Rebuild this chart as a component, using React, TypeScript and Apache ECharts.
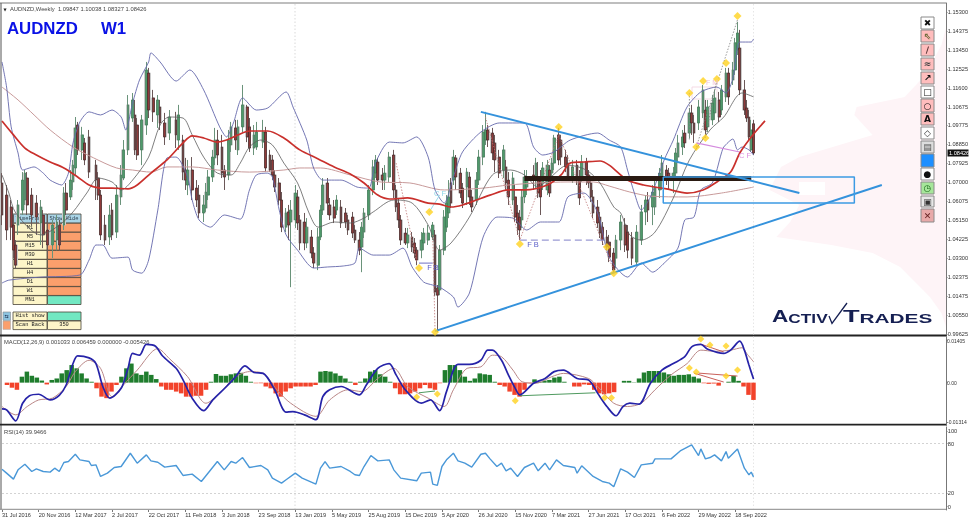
import React, { useEffect, useRef } from "react";
import * as echarts from "echarts";

// week index, open, close, low, high
const candles2016 = [[0,1.0697,1.0541,1.0492,1.0745],[2,1.0638,1.0468,1.0419,1.0687],[4,1.0580,1.0482,1.0419,1.0614],[5,1.0492,1.0370,1.0331,1.0541],[6,1.0395,1.0297,1.0283,1.0419],[7,1.0492,1.0590,1.0444,1.0614],[9,1.0565,1.0711,1.0541,1.0750],[10,1.0614,1.0745,1.0590,1.0760],[11,1.0721,1.0590,1.0541,1.0750],[13,1.0638,1.0541,1.0492,1.0672],[15,1.0599,1.0531,1.0444,1.0638],[17,1.0502,1.0580,1.0395,1.0614],[18,1.0541,1.0444,1.0380,1.0565],[20,1.0468,1.0395,1.0346,1.0507],[22,1.0395,1.0492,1.0331,1.0517]];
const candles2017 = [[24,1.0419,1.0507,1.0370,1.0541],[25,1.0492,1.0395,1.0370,1.0517],[27,1.0492,1.0648,1.0468,1.0677],[28,1.0648,1.0565,1.0541,1.0697],[30,1.0629,1.0711,1.0614,1.0760],[31,1.0702,1.0784,1.0663,1.0809],[32,1.0770,1.0965,1.0736,1.1018],[33,1.0979,1.0858,1.0833,1.0994],[35,1.0858,1.0931,1.0809,1.0970],[36,1.0892,1.0809,1.0784,1.0916],[38,1.0921,1.0750,1.0721,1.0955],[41,1.0784,1.0711,1.0614,1.0809],[42,1.0721,1.0638,1.0614,1.0750],[43,1.0638,1.0444,1.0419,1.0663],[45,1.0492,1.0419,1.0395,1.0541],[47,1.0434,1.0541,1.0395,1.0590],[48,1.0565,1.0444,1.0419,1.0599],[50,1.0458,1.0638,1.0429,1.0687],[52,1.0629,1.0736,1.0590,1.0784],[53,1.0721,1.0858,1.0711,1.0906],[55,1.0858,1.1077,1.0833,1.1125],[57,1.1013,1.1101,1.0994,1.1135],[58,1.1028,1.0858,1.0833,1.1101],[59,1.0979,1.0833,1.0809,1.1013],[61,1.0858,1.1004,1.0784,1.1028],[63,1.0979,1.1247,1.0931,1.1286],[64,1.1232,1.1052,1.1013,1.1257],[66,1.1111,1.1043,1.0994,1.1150],[68,1.1028,1.1101,1.0965,1.1125],[69,1.1067,1.0989,1.0955,1.1101],[71,1.0989,1.0921,1.0882,1.1038]];
const candles2018 = [[73,1.0940,1.1018,1.0906,1.1052],[76,1.1004,1.0931,1.0867,1.1043],[77,1.0906,1.1028,1.0858,1.1077],[79,1.0906,1.0750,1.0711,1.0931],[80,1.0760,1.0711,1.0663,1.0819],[81,1.0687,1.0760,1.0638,1.0809],[83,1.0760,1.0663,1.0614,1.0823],[85,1.0672,1.0614,1.0580,1.0711],[86,1.0638,1.0551,1.0526,1.0687],[88,1.0551,1.0590,1.0507,1.0638],[89,1.0575,1.0653,1.0556,1.0697],[90,1.0638,1.0726,1.0614,1.0760],[92,1.0726,1.0823,1.0702,1.0858],[93,1.0819,1.0906,1.0784,1.0965],[94,1.0906,1.0833,1.0784,1.0955],[96,1.0872,1.0745,1.0721,1.0931],[97,1.0760,1.0726,1.0663,1.0784],[99,1.0736,1.0906,1.0711,1.0955],[100,1.0882,1.0970,1.0848,1.0994],[102,1.0965,1.0906,1.0858,1.1004],[103,1.0858,1.0970,1.0833,1.1004],[105,1.0970,1.1077,1.0945,1.1174],[107,1.1067,1.0921,1.0896,1.1077],[108,1.0970,1.0867,1.0848,1.1013],[110,1.0867,1.0931,1.0833,1.0979],[111,1.0872,1.0945,1.0858,1.0994],[114,1.0896,1.0945,1.0867,1.1004],[115,1.0945,1.0770,1.0750,1.0970],[117,1.0833,1.0760,1.0750,1.0858],[118,1.0809,1.0736,1.0711,1.0833],[119,1.0736,1.0677,1.0653,1.0760],[121,1.0697,1.0614,1.0590,1.0721],[122,1.0614,1.0482,1.0458,1.0653]];
const candles2019 = [[124,1.0482,1.0551,1.0458,1.0575],[125,1.0556,1.0492,1.0419,1.0590],[126,1.0507,1.0565,1.0190,1.0614],[128,1.0517,1.0648,1.0478,1.0687],[129,1.0629,1.0502,1.0468,1.0663],[130,1.0517,1.0405,1.0370,1.0541],[132,1.0507,1.0405,1.0370,1.0551],[133,1.0405,1.0482,1.0380,1.0526],[135,1.0434,1.0356,1.0331,1.0468],[136,1.0356,1.0307,1.0283,1.0385],[138,1.0297,1.0434,1.0273,1.0478],[139,1.0434,1.0565,1.0419,1.0590],[140,1.0565,1.0687,1.0541,1.0721],[142,1.0697,1.0599,1.0541,1.0721],[143,1.0590,1.0541,1.0517,1.0624],[145,1.0580,1.0526,1.0502,1.0614],[146,1.0565,1.0614,1.0541,1.0638],[148,1.0580,1.0502,1.0478,1.0614],[150,1.0551,1.0507,1.0478,1.0575],[151,1.0517,1.0468,1.0444,1.0541],[153,1.0531,1.0453,1.0429,1.0556],[154,1.0468,1.0419,1.0405,1.0492],[156,1.0419,1.0370,1.0346,1.0458],[157,1.0385,1.0482,1.0263,1.0507],[158,1.0458,1.0551,1.0429,1.0575],[160,1.0541,1.0663,1.0517,1.0687],[162,1.0663,1.0775,1.0638,1.0809],[163,1.0745,1.0809,1.0721,1.0833],[164,1.0799,1.0711,1.0687,1.0819],[166,1.0736,1.0711,1.0663,1.0770],[167,1.0711,1.0745,1.0663,1.0784],[169,1.0726,1.0823,1.0702,1.0848],[171,1.0833,1.0663,1.0624,1.0858],[172,1.0663,1.0580,1.0556,1.0687],[173,1.0599,1.0517,1.0478,1.0624],[174,1.0517,1.0419,1.0395,1.0541]];
const candles2020 = [[176,1.0453,1.0405,1.0395,1.0478],[177,1.0405,1.0444,1.0380,1.0478],[179,1.0434,1.0385,1.0361,1.0458],[180,1.0405,1.0356,1.0331,1.0429],[181,1.0370,1.0322,1.0297,1.0385],[183,1.0370,1.0419,1.0331,1.0458],[184,1.0405,1.0453,1.0370,1.0478],[186,1.0419,1.0453,1.0395,1.0492],[188,1.0434,1.0492,1.0419,1.0507],[189,1.0444,1.0166,1.0146,1.0468],[190,1.0185,1.0151,0.9971,1.0200],[191,1.0176,1.0370,1.0151,1.0395],[193,1.0370,1.0531,1.0346,1.0565],[194,1.0482,1.0599,1.0458,1.0638],[195,1.0551,1.0629,1.0526,1.0711],[196,1.0697,1.0599,1.0575,1.0721],[197,1.0711,1.0823,1.0687,1.0858],[198,1.0819,1.0726,1.0663,1.0833],[200,1.0745,1.0648,1.0624,1.0770],[201,1.0672,1.0599,1.0575,1.0697],[203,1.0677,1.0750,1.0590,1.0770],[204,1.0726,1.0629,1.0590,1.0750],[205,1.0629,1.0580,1.0556,1.0663],[207,1.0614,1.0711,1.0590,1.0750],[208,1.0711,1.0823,1.0687,1.0858],[210,1.0823,1.0945,1.0784,1.0979],[211,1.0906,1.0955,1.0882,1.1043],[212,1.0955,1.0906,1.0872,1.0979],[214,1.0940,1.0843,1.0809,1.0965],[215,1.0892,1.0809,1.0750,1.0931],[217,1.0823,1.0745,1.0721,1.0858],[219,1.0760,1.0858,1.0721,1.0882],[220,1.0775,1.0697,1.0663,1.0809],[221,1.0711,1.0629,1.0590,1.0750],[223,1.0614,1.0721,1.0590,1.0750],[224,1.0629,1.0531,1.0507,1.0687],[225,1.0551,1.0502,1.0444,1.0590],[226,1.0531,1.0468,1.0419,1.0565]];
const candles2021 = [[227,1.0517,1.0629,1.0478,1.0663],[228,1.0629,1.0726,1.0599,1.0760],[229,1.0677,1.0726,1.0638,1.0760],[232,1.0736,1.0711,1.0663,1.0784],[233,1.0711,1.0794,1.0672,1.0819],[234,1.0711,1.0648,1.0624,1.0799],[235,1.0726,1.0629,1.0541,1.0760],[236,1.0697,1.0770,1.0663,1.0799],[238,1.0663,1.0784,1.0638,1.0809],[239,1.0760,1.0648,1.0629,1.0784],[240,1.0745,1.0794,1.0721,1.0819],[241,1.0794,1.0916,1.0760,1.0931],[243,1.0931,1.0809,1.0784,1.0965],[244,1.0906,1.0823,1.0784,1.0931],[246,1.0823,1.0775,1.0750,1.0858],[247,1.0794,1.0726,1.0711,1.0833],[249,1.0726,1.0775,1.0697,1.0809],[251,1.0784,1.0726,1.0687,1.0809],[252,1.0726,1.0624,1.0590,1.0760],[253,1.0726,1.0799,1.0702,1.0833],[255,1.0799,1.0736,1.0687,1.0819],[256,1.0736,1.0697,1.0672,1.0760],[257,1.0697,1.0629,1.0604,1.0721],[258,1.0629,1.0551,1.0526,1.0663],[260,1.0580,1.0502,1.0478,1.0614],[261,1.0531,1.0453,1.0429,1.0556],[262,1.0482,1.0419,1.0395,1.0507],[264,1.0434,1.0385,1.0370,1.0468],[265,1.0409,1.0336,1.0312,1.0444],[267,1.0356,1.0273,1.0258,1.0380],[268,1.0331,1.0419,1.0283,1.0444],[270,1.0419,1.0507,1.0370,1.0541],[272,1.0492,1.0395,1.0361,1.0526],[273,1.0458,1.0370,1.0331,1.0492],[275,1.0429,1.0331,1.0297,1.0458]];
const candles2022 = [[277,1.0312,1.0458,1.0292,1.0492],[279,1.0419,1.0556,1.0395,1.0590],[281,1.0556,1.0614,1.0492,1.0638],[282,1.0614,1.0565,1.0507,1.0653],[284,1.0580,1.0653,1.0492,1.0687],[285,1.0580,1.0677,1.0541,1.0711],[287,1.0663,1.0745,1.0624,1.0770],[288,1.0711,1.0794,1.0663,1.0833],[290,1.0760,1.0726,1.0687,1.0784],[291,1.0745,1.0711,1.0663,1.0770],[293,1.0721,1.0745,1.0648,1.0775],[294,1.0745,1.0843,1.0721,1.0867],[295,1.0823,1.0892,1.0794,1.0931],[297,1.0872,1.0921,1.0833,1.0955],[298,1.0940,1.0892,1.0867,1.0979],[300,1.0940,1.1038,1.0916,1.1062],[301,1.1038,1.0989,1.0931,1.1077],[302,1.0989,1.0940,1.0892,1.1028],[304,1.0989,1.1067,1.0955,1.1101],[306,1.1038,1.1150,1.1013,1.1174],[307,1.1052,1.0955,1.0931,1.1101],[308,1.0970,1.1067,1.0945,1.1101],[310,1.1004,1.1086,1.0979,1.1125],[311,1.1038,1.1111,1.1004,1.1150],[313,1.1101,1.1018,1.0994,1.1140],[314,1.1052,1.1150,1.1028,1.1174],[316,1.1116,1.1232,1.1091,1.1257],[317,1.1232,1.1116,1.1077,1.1257],[319,1.1198,1.1247,1.1174,1.1286],[320,1.1247,1.1379,1.1223,1.1403],[321,1.1345,1.1427,1.1320,1.1481],[322,1.1354,1.1150,1.1125,1.1442],[324,1.1150,1.1052,1.1028,1.1198],[325,1.1062,1.1013,1.0994,1.1101],[326,1.1018,1.0921,1.0906,1.1052],[327,1.0858,1.0955,1.0848,1.1004],[328,1.0985,1.0843,1.0833,1.1004]];

const redMA = [[0,1.0999],[5,1.0931],[10,1.0867],[15,1.0833],[21,1.0799],[27,1.0770],[33,1.0726],[38,1.0687],[43,1.0672],[48,1.0672],[55,1.0668],[59,1.0687],[65,1.0745],[72,1.0809],[79,1.0892],[83,1.0926],[88,1.0916],[94,1.0896],[98,1.0906],[103,1.0931],[108,1.0950],[116,1.0950],[123,1.0916],[130,1.0858],[138,1.0814],[145,1.0775],[152,1.0741],[158,1.0697],[164,1.0638],[169,1.0619],[177,1.0624],[186,1.0599],[191,1.0594],[196,1.0580],[201,1.0590],[207,1.0614],[213,1.0638],[221,1.0663],[228,1.0663],[238,1.0687],[244,1.0736],[248,1.0794],[254,1.0799],[261,1.0804],[265,1.0784],[273,1.0711],[280,1.0687],[290,1.0668],[299,1.0648],[306,1.0663],[312,1.0702],[318,1.0750],[322,1.0843],[327,1.0921],[333,1.0999]];
const pinkMA = [[0,1.1164],[7,1.1101],[14,1.1028],[21,1.0955],[31,1.0872],[40,1.0819],[50,1.0770],[57,1.0760],[65,1.0750],[72,1.0775],[83,1.0775],[94,1.0760],[108,1.0750],[123,1.0760],[130,1.0770],[139,1.0770],[152,1.0736],[165,1.0702],[178,1.0697],[193,1.0663],[210,1.0672],[221,1.0687],[234,1.0697],[247,1.0702],[258,1.0702],[265,1.0682],[274,1.0653],[283,1.0633],[299,1.0629],[314,1.0648],[328,1.0677]];
const bollUpper = [[0,1.1286],[2,1.1164],[4,1.0970],[7,1.0843],[9,1.0760],[14,1.0775],[18,1.0745],[21,1.0711],[26,1.0687],[29,1.0745],[31,1.0892],[34,1.0994],[38,1.1043],[43,1.1028],[48,1.1052],[52,1.1018],[54,1.0955],[57,1.1086],[60,1.1198],[64,1.1286],[65,1.1330],[69,1.1286],[76,1.1193],[82,1.1247],[88,1.1150],[95,1.0970],[98,1.0921],[101,1.0989],[105,1.1111],[111,1.1052],[116,1.1062],[124,1.1140],[127,1.1067],[133,1.0906],[136,1.0770],[140,1.0711],[148,1.0711],[155,1.0677],[160,1.0672],[163,1.0794],[169,1.0896],[175,1.0892],[181,1.0921],[186,1.0823],[189,1.0663],[193,1.0599],[197,1.0726],[201,1.0848],[209,1.0945],[217,1.0989],[228,1.0989],[232,1.0872],[236,1.0833],[241,1.0848],[248,1.0906],[260,1.0940],[265,1.0906],[270,1.0872],[273,1.0760],[276,1.0648],[279,1.0565],[283,1.0629],[289,1.0809],[293,1.0906],[299,1.1067],[305,1.1140],[312,1.1164],[316,1.1135],[319,1.1208],[321,1.1359],[322,1.1383],[327,1.1383],[328,1.1398]];
const bollLower = [[0,1.0210],[3,1.0224],[17,1.0239],[34,1.0249],[38,1.0322],[41,1.0395],[44,1.0395],[48,1.0331],[55,1.0336],[57,1.0273],[61,1.0258],[64,1.0322],[68,1.0565],[72,1.0819],[76,1.0823],[81,1.0726],[83,1.0614],[86,1.0517],[91,1.0482],[97,1.0541],[104,1.0521],[108,1.0663],[111,1.0736],[116,1.0745],[118,1.0726],[121,1.0565],[124,1.0444],[129,1.0370],[136,1.0283],[142,1.0288],[149,1.0293],[154,1.0307],[156,1.0380],[162,1.0346],[169,1.0346],[175,1.0380],[179,1.0288],[184,1.0215],[188,1.0200],[191,1.0190],[197,1.0142],[199,1.0093],[204,1.0161],[210,1.0434],[216,1.0531],[223,1.0526],[229,1.0468],[235,1.0507],[243,1.0507],[247,1.0629],[254,1.0648],[260,1.0551],[265,1.0336],[273,1.0239],[279,1.0307],[284,1.0263],[289,1.0307],[295,1.0380],[298,1.0517],[302,1.0531],[305,1.0663],[310,1.0697],[314,1.0843],[315,1.0872],[319,1.0911],[321,1.0858],[323,1.0872],[326,1.0858],[328,1.0833]];
const bollMiddle = [[0,1.0736],[3,1.0648],[6,1.0551],[17,1.0444],[25,1.0492],[31,1.0556],[37,1.0648],[42,1.0721],[48,1.0702],[52,1.0663],[57,1.0711],[64,1.0823],[69,1.0979],[73,1.1018],[79,1.1013],[83,1.0931],[88,1.0823],[94,1.0745],[100,1.0736],[104,1.0794],[108,1.0872],[113,1.0906],[118,1.0882],[123,1.0794],[129,1.0697],[134,1.0551],[138,1.0482],[145,1.0507],[152,1.0502],[158,1.0526],[162,1.0556],[171,1.0614],[179,1.0599],[186,1.0492],[191,1.0370],[196,1.0405],[204,1.0531],[214,1.0736],[222,1.0760],[228,1.0736],[234,1.0677],[239,1.0721],[247,1.0784],[255,1.0760],[261,1.0697],[267,1.0580],[270,1.0551],[274,1.0444],[279,1.0419],[285,1.0458],[293,1.0624],[300,1.0809],[309,1.0955],[315,1.1018],[323,1.1135],[328,1.1116]];

const macdHist = [0,-0.0008,-0.0017,-0.0024,0.0020,0.0037,0.0023,0.0017,0.0007,-0.0006,0.0009,0.0014,0.0031,0.0042,0.0059,0.0048,0.0031,0.0014,0.0003,-0.0019,-0.0047,-0.0052,-0.0030,-0.0008,0.0020,0.0048,0.0064,0.0031,0.0026,0.0037,0.0026,0.0012,-0.0013,-0.0024,-0.0024,-0.0030,-0.0036,-0.0047,-0.0047,-0.0044,-0.0044,-0.0024,0.0003,0.0029,0.0023,0.0023,0.0028,0.0031,0.0033,0.0023,0.0003,-0.0002,-0.0002,-0.0013,-0.0019,-0.0036,-0.0047,-0.0030,-0.0019,-0.0013,-0.0013,-0.0013,-0.0013,-0.0008,0.0037,0.0039,0.0037,0.0031,0.0023,0.0014,0.0003,-0.0008,0.0003,0.0014,0.0037,0.0042,0.0028,0.0020,0.0003,-0.0019,-0.0039,-0.0039,-0.0036,-0.0030,-0.0019,-0.0008,-0.0019,-0.0024,-0.0002,0.0042,0.0059,0.0059,0.0042,0.0020,0.0006,0.0014,0.0031,0.0028,0.0026,0.0003,-0.0008,-0.0013,-0.0030,-0.0041,-0.0047,-0.0024,-0.0002,0.0011,0.0003,0.0007,0.0009,0.0017,0.0020,0.0003,0,-0.0013,-0.0013,-0.0006,-0.0008,-0.0024,-0.0036,-0.0039,-0.0036,-0.0032,0,0.0006,0.0006,0.0001,0.0014,0.0034,0.0039,0.0039,0.0039,0.0034,0.0028,0.0023,0.0026,0.0026,0.0028,0.0020,0.0014,-0.0002,-0.0004,-0.0003,-0.0010,0,0.0003,0.0023,0.0006,-0.0013,-0.0041,-0.0058];
const macdLine = [[0,-0.0088],[2,-0.0091],[6,-0.0128],[9,-0.0069],[12,-0.0044],[16,-0.0039],[21,-0.0058],[25,-0.0043],[28,-0.0008],[31,0.0064],[33,0.0090],[38,0.0083],[41,0.0064],[44,-0.0013],[47,-0.0052],[52,-0.0019],[55,0.0048],[57,0.0098],[60,0.0092],[63,0.0128],[67,0.0122],[70,0.0090],[76,0.0048],[79,0.0009],[83,-0.0052],[88,-0.0094],[92,-0.0058],[98,-0.0013],[102,0.0020],[106,0.0056],[110,0.0034],[114,0.0031],[119,-0.0024],[124,-0.0099],[127,-0.0097],[132,-0.0108],[137,-0.0124],[140,-0.0047],[143,-0.0024],[148,-0.0013],[156,-0.0041],[159,-0.0008],[164,0.0048],[169,0.0064],[172,0.0026],[176,-0.0024],[183,-0.0069],[187,-0.0058],[191,-0.0094],[194,-0.0030],[199,0.0061],[204,0.0061],[209,0.0075],[212,0.0109],[214,0.0109],[218,0.0075],[221,0.0026],[224,-0.0019],[226,-0.0041],[232,-0.0002],[237,0.0014],[241,0.0037],[245,0.0042],[251,0.0014],[256,0.0009],[260,-0.0036],[264,-0.0080],[268,-0.0111],[271,-0.0080],[274,-0.0069],[278,-0.0072],[283,-0.0002],[288,0.0042],[293,0.0064],[298,0.0087],[301,0.0120],[305,0.0128],[308,0.0112],[315,0.0098],[318,0.0109],[322,0.0139],[324,0.0109],[326,0.0059],[328,0.0012]];
const macdSignal = [[0,-0.0080],[6,-0.0108],[11,-0.0080],[16,-0.0058],[22,-0.0052],[28,-0.0013],[32,0.0037],[38,0.0075],[43,0.0048],[48,-0.0047],[53,-0.0008],[59,0.0042],[68,0.0114],[73,0.0081],[81,0.0020],[89,-0.0069],[95,-0.0036],[101,0.0014],[108,0.0037],[114,0.0031],[120,-0.0024],[126,-0.0069],[137,-0.0113],[143,-0.0058],[151,-0.0024],[157,-0.0030],[164,0.0014],[171,0.0048],[177,-0.0013],[186,-0.0052],[193,-0.0080],[197,-0.0024],[203,0.0048],[209,0.0053],[214,0.0092],[218,0.0087],[223,0.0042],[227,0.0003],[233,-0.0002],[240,0.0020],[245,0.0031],[256,0.0014],[260,-0.0013],[267,-0.0069],[273,-0.0080],[279,-0.0069],[285,-0.0024],[292,0.0026],[299,0.0064],[305,0.0109],[311,0.0105],[318,0.0109],[323,0.0117],[325,0.0098],[328,0.0070]];
const rsiLine = [[0,49.2],[2,44.4],[5,37.2],[7,48.4],[10,55.2],[13,46.4],[15,49.6],[18,46.4],[21,45.6],[23,50.4],[25,46.4],[27,57.2],[29,58.4],[32,67.2],[34,60.4],[38,58.4],[39,53.6],[41,54.4],[43,40.4],[46,44.4],[49,51.2],[52,52.4],[56,68.4],[59,56.4],[63,66.4],[65,59.2],[68,57.6],[71,51.6],[76,53.6],[79,41.6],[83,43.2],[87,34.4],[94,58.4],[97,48.4],[100,58.4],[102,56.4],[105,63.2],[108,51.2],[113,53.6],[116,48.4],[118,38.4],[122,32.4],[124,36.4],[128,44.4],[131,38.4],[137,31.2],[139,50.4],[141,58.4],[143,50.4],[148,52.4],[152,46.4],[154,42.4],[156,41.6],[158,52.4],[161,65.6],[164,59.2],[169,60.4],[171,48.4],[174,38.4],[181,35.2],[183,44.4],[187,45.6],[188,31.2],[190,29.6],[192,52.4],[194,60.4],[197,68.4],[199,59.2],[202,56.4],[205,51.6],[209,67.2],[211,68.4],[213,61.6],[216,52.4],[218,56.4],[220,47.2],[222,50.4],[225,40.4],[228,51.2],[232,56.4],[234,47.2],[237,56.4],[239,48.4],[242,60.4],[245,53.6],[250,51.2],[251,44.4],[253,53.2],[258,40.4],[262,34.4],[265,32.4],[267,28.0],[270,49.6],[273,45.6],[276,39.2],[279,54.4],[284,56.4],[285,61.6],[292,61.6],[296,71.2],[301,78.4],[304,65.6],[305,73.6],[307,61.6],[309,63.2],[311,66.4],[314,59.2],[316,70.4],[317,62.4],[321,73.6],[324,50.4],[326,42.4],[327,45.6],[328,39.9]];

const priceDiamonds = [[321,1.1510],[316,1.1281],[312,1.1203],[306,1.1193],[300,1.1135],[307,1.0916],[303,1.0872],[243,1.0970],[186.5,1.0556],[182,1.0283],[226,1.0400],[264,1.0385],[267,1.0258],[189,0.9971]];
const macdDiamonds = [[181,-0.0048],[190,-0.0038],[224,-0.0061],[263,-0.0051],[266,-0.0051],[300,0.0049],[303,0.0036],[305,0.0146],[309,0.0126],[316,0.0123],[316,0.0022],[321,0.0042]];

const trendUp = [[189,0.9976],[384,1.0687]];
const trendDown = [[209,1.1043],[348,1.0648]];
const zoneBox = [[288.6,1.0726],[372,1.0726],[372,1.0599],[288.6,1.0599],[288.6,1.0726]];
const blackBand = [[228,1.0719],[327,1.0719]];
const redZigzags = [[[172,1.0794],[181,1.0312]],[[188,1.0444],[189,0.9976]],[[211,1.1018],[226,1.0419],[243,1.0931],[267,1.0273]]];
const grayZigzags = [[[303,1.0872],[321,1.1491]],[[300,1.1135],[300,1.0906]],[[307,1.0916],[312,1.1203]]];
const fbDashed = [[226,1.0419],[264,1.0419]];
const fbSolid = [[182,1.0307],[188,1.0307]];
const cfMagenta = [[303,1.0892],[322,1.0848]];
const cfCyan = [[186.5,1.0556],[191,1.0638]];
const macdGreenLinks = [[[226,-0.0044],[259,-0.0034]],[[182,-0.0034],[189,-0.0028]]];
const macdRedLinks = [[[302,0.0032],[315,0.0002]],[[304,0.0032],[321,0.0022]],[[305,0.0129],[315,0.0103]]];
const volumeProfile = [[412,1.1452],[410,1.1369],[403,1.1223],[394,1.1116],[373,1.1067],[372,1.1028],[380,1.0931],[348,1.0823],[340,1.0775],[335,1.0663],[348,1.0590],[344,1.0507],[338,1.0434],[362,1.0395],[380,1.0356],[392,1.0288],[405,1.0142],[410,1.0064],[412,0.9996]];

const dateLabels = ["31 Jul 2016","20 Nov 2016","12 Mar 2017","2 Jul 2017","22 Oct 2017","11 Feb 2018","3 Jun 2018","23 Sep 2018","13 Jan 2019","5 May 2019","25 Aug 2019","15 Dec 2019","5 Apr 2020","26 Jul 2020","15 Nov 2020","7 Mar 2021","27 Jun 2021","17 Oct 2021","6 Feb 2022","29 May 2022","18 Sep 2022"];
const priceTicks = [1.153,1.14375,1.1345,1.12525,1.116,1.10675,1.09775,1.0885,1.07925,1.07,1.06075,1.0515,1.04225,1.033,1.02375,1.01475,1.0055,0.99625];
const macdTicks = [0.01405,0,-0.01314];
const rsiTicks = [4,20,80,95];
const rsiTickText: Record<number, string> = { 4: "0", 20: "20", 80: "80", 95: "100" };
const timeFrames = ["M1","M5","M15","M30","H1","H4","D1","W1","MN1"];

const FONT = '"Liberation Sans", Arial, sans-serif';
const axisGray = "#777";
const txtGray = "#333";

const candles = [...candles2016, ...candles2017, ...candles2018, ...candles2019, ...candles2020, ...candles2021, ...candles2022];

function line(data: any, color: string, width: number, gi = 0, extra: any = {}) {
  return {
    type: "line", data, xAxisIndex: gi, yAxisIndex: gi, showSymbol: false, symbol: "none", silent: true, z: 4,
    lineStyle: { color, width, ...(extra.lineStyle || {}) },
    ...(extra.smooth !== undefined ? { smooth: extra.smooth } : {}),
    ...(extra.markLine ? { markLine: extra.markLine } : {}),
    ...(extra.z ? { z: extra.z } : {}),
  };
}

function xAxis(gi: number, showLabels: boolean) {
  const ticks = dateLabels.map((_, i) => i * 16);
  return {
    type: "value", gridIndex: gi, min: 0, max: 412, interval: 16,
    axisLine: { show: false }, splitLine: { show: false },
    axisTick: { show: showLabels, length: 2, customValues: ticks, lineStyle: { color: axisGray } },
    axisLabel: {
      show: showLabels, align: "left", margin: 2, fontSize: 5.6, color: txtGray, fontFamily: FONT, customValues: ticks,
      formatter: (v: number) => dateLabels[v / 16] ?? "",
    },
  };
}
function yAxis(gi: number, min: number, max: number, ticks: number[], fmt: (v: number) => string, fontSize = 5.6, margin = 1.8) {
  return {
    type: "value", gridIndex: gi, position: "right", min, max, scale: true,
    axisLine: { show: true, onZero: false, lineStyle: { color: axisGray, width: 1 } },
    splitLine: { show: false },
    axisTick: { show: true, length: 1.5, customValues: ticks, lineStyle: { color: axisGray } },
    axisLabel: { margin, fontSize, color: txtGray, fontFamily: FONT, customValues: ticks, formatter: fmt, showMinLabel: true, showMaxLabel: true, hideOverlap: false },
  };
}

function toolbar(): any[] {
  const rows: [number, number, string, string, string][] = [
    [17, 12, "#ffffff", "✖", "#111"],
    [30, 12, "#ffbdbd", "⇖", "#663"],
    [44, 12, "#ffbdbd", "∕", "#533"],
    [58, 12, "#ffbdbd", "≈", "#444"],
    [72, 12, "#ffbdbd", "↗", "#111"],
    [86, 12, "#ffffff", "□", "#111"],
    [99, 13, "#ffbdbd", "○", "#111"],
    [113, 12, "#ffbdbd", "A", "#111"],
    [127, 12, "#ffffff", "◇", "#333"],
    [141, 12, "#dddddd", "▤", "#555"],
    [154, 13, "#1e8fff", "", "#000"],
    [168, 12, "#ffffff", "●", "#111"],
    [182, 12, "#a6e69a", "◷", "#1c6b1c"],
    [196, 11, "#e8e8e8", "▣", "#333"],
    [209, 13, "#e8a9a9", "✕", "#622"],
  ];
  const out: any[] = [];
  rows.forEach(([y, h, fill, glyph, col]) => {
    out.push({ type: "rect", z: 1, shape: { x: 921, y, width: 13, height: h }, style: { fill, stroke: "#8a8a8a", lineWidth: 1 } });
    if (glyph) out.push({ type: "text", z: 1, x: 927.5, y: y + h / 2, style: { text: glyph, fill: col, font: 'bold 9px "DejaVu Sans"', align: "center", verticalAlign: "middle" } });
  });
  return out;
}

function tablePanel(): any[] {
  const out: any[] = [];
  const mono = '5.4px "Liberation Mono"';
  const edge = "#4a4438";
  out.push({ type: "rect", shape: { x: 13, y: 214, width: 34, height: 9 }, style: { fill: "#a9d4e6", stroke: edge, lineWidth: 0.8 } });
  out.push({ type: "rect", shape: { x: 47.5, y: 214, width: 33.5, height: 9 }, style: { fill: "#a9d4e6", stroke: edge, lineWidth: 0.8 } });
  out.push({ type: "text", x: 30, y: 218.5, style: { text: "TimeFrame", font: mono, fill: "#345", align: "center", verticalAlign: "middle" } });
  out.push({ type: "text", x: 64, y: 218.5, style: { text: "Show Hide", font: mono, fill: "#345", align: "center", verticalAlign: "middle" } });
  timeFrames.forEach((tf, i) => {
    const y = 223.3 + i * 9.05;
    out.push({ type: "rect", shape: { x: 13, y, width: 34, height: 8.8 }, style: { fill: "#fdf5c8", stroke: edge, lineWidth: 0.8 } });
    out.push({ type: "rect", shape: { x: 47.5, y, width: 33.5, height: 8.8 }, style: { fill: tf === "MN1" ? "#72e8c2" : "#fb9f6c", stroke: edge, lineWidth: 0.8 } });
    out.push({ type: "text", x: 30, y: y + 4.5, style: { text: tf, font: mono, fill: "#222", align: "center", verticalAlign: "middle" } });
  });
  const lower: [number, string, string, string][] = [[312, "Hist show", "#72e8c2", ""], [321, "Scan Back", "#fdf5c8", "350"]];
  lower.forEach(([y, t, fill, v]) => {
    out.push({ type: "rect", shape: { x: 13, y, width: 34, height: 8.6 }, style: { fill: "#fdf5c8", stroke: edge, lineWidth: 0.8 } });
    out.push({ type: "rect", shape: { x: 47.5, y, width: 33.5, height: 8.6 }, style: { fill, stroke: edge, lineWidth: 0.8 } });
    out.push({ type: "text", x: 30, y: y + 4.4, style: { text: t, font: mono, fill: "#222", align: "center", verticalAlign: "middle" } });
    if (v) out.push({ type: "text", x: 64, y: y + 4.4, style: { text: v, font: mono, fill: "#222", align: "center", verticalAlign: "middle" } });
  });
  out.push({ type: "rect", shape: { x: 3, y: 312, width: 7.5, height: 8.4 }, style: { fill: "#8dc4e0", stroke: "#888", lineWidth: 0.6 } });
  out.push({ type: "text", x: 6.7, y: 316.2, style: { text: "⇆", font: '5px "DejaVu Sans"', fill: "#124", align: "center", verticalAlign: "middle" } });
  out.push({ type: "rect", shape: { x: 3, y: 321, width: 7.5, height: 8.4 }, style: { fill: "#fb9f6c", stroke: "#aaa", lineWidth: 0.6 } });
  return out;
}

function logo(): any[] {
  const navy = "#151f52";
  const big = `bold 17px ${FONT}`;
  const small = `bold 13px ${FONT}`;
  return [
    { type: "text", z: 1, x: 772, y: 308, scaleX: 1.33, style: { text: "{a|A}{b|CTIV}", fill: navy, rich: { a: { font: big, fill: navy, verticalAlign: "bottom" }, b: { font: small, fill: navy, verticalAlign: "bottom" } } } },
    { type: "text", z: 1, x: 843, y: 308, scaleX: 1.6, style: { text: "{a|T}{b|RADES}", fill: navy, rich: { a: { font: big, fill: navy, verticalAlign: "bottom" }, b: { font: small, fill: navy, verticalAlign: "bottom" } } } },
    { type: "polyline", z: 1, shape: { points: [[829, 316], [832, 323.5], [847, 303]] }, style: { stroke: navy, lineWidth: 1.3, fill: "none" } },
  ];
}

function frame(): any[] {
  const l = (x1: number, y1: number, x2: number, y2: number, stroke: string, lineWidth: number, lineDash?: number[]) =>
    ({ type: "line", shape: { x1, y1, x2, y2 }, style: { stroke, lineWidth, lineDash } });
  return [
    l(0, 3, 946, 3, "#a8a8a8", 1.6),
    l(1, 3, 1, 509, "#555", 1),
    l(0, 335.5, 947, 335.5, "#222", 1.8),
    l(0, 424.7, 947, 424.7, "#222", 1.8),
    l(0, 509.3, 947, 509.3, "#888", 1),
    l(295, 4, 295, 509, "#cfcfcf", 0.8, [1.5, 2]),
    l(753.5, 4, 753.5, 509, "#dfdfdf", 0.8, [1.5, 2]),
  ];
}

function texts(): any[] {
  const hdr = `5.8px ${FONT}`;
  return [
    { type: "text", x: 3.5, y: 9, style: { text: "▼", font: '4px "DejaVu Sans"', fill: "#222", verticalAlign: "middle" } },
    { type: "text", x: 10, y: 9, style: { text: "AUDNZD,Weekly  1.09847 1.10038 1.08327 1.08426", font: hdr, fill: "#444", verticalAlign: "middle" } },
    { type: "text", x: 7, y: 28, style: { text: "AUDNZD", font: `bold 16.8px ${FONT}`, fill: "#0a12e6", verticalAlign: "middle" } },
    { type: "text", x: 101, y: 28, style: { text: "W1", font: `bold 16.8px ${FONT}`, fill: "#0a12e6", verticalAlign: "middle" } },
    { type: "text", x: 4, y: 341.5, style: { text: "MACD(12,26,9) 0.001033 0.006459 0.000000 -0.005426", font: hdr, fill: "#444", verticalAlign: "middle" } },
    { type: "text", x: 4, y: 431.5, style: { text: "RSI(14) 39.9466", font: hdr, fill: "#444", verticalAlign: "middle" } },
    { type: "rect", z: 3, shape: { x: 947.5, y: 149.5, width: 21, height: 7 }, style: { fill: "#111" } },
    { type: "text", z: 3, x: 949, y: 153, style: { text: "1.08426", font: `5.6px ${FONT}`, fill: "#fff", verticalAlign: "middle" } },
    { type: "text", z: 8, x: 433, y: 267, style: { text: "F B", font: `7.5px ${FONT}`, fill: "#5a5ec8", align: "center", verticalAlign: "middle" } },
    { type: "text", z: 8, x: 533, y: 244.5, style: { text: "F B", font: `7.5px ${FONT}`, fill: "#5a5ec8", align: "center", verticalAlign: "middle" } },
    { type: "text", z: 8, x: 440, y: 193, style: { text: "C F", font: `7.5px ${FONT}`, fill: "#8fd6e8", align: "center", verticalAlign: "middle" } },
    { type: "text", z: 8, x: 745, y: 155, style: { text: "C F", font: `7.5px ${FONT}`, fill: "#dd8fe0", align: "center", verticalAlign: "middle" } },
    { type: "text", z: 8, x: 712, y: 82, style: { text: "F M", font: `7px ${FONT}`, fill: "#f0c4d4", align: "center", verticalAlign: "middle" } },
    { type: "rect", shape: { x: 692, y: 87, width: 25, height: 12 }, style: { fill: "none", stroke: "#f3d2de", lineWidth: 0.8 } },
    { type: "rect", z: 1, shape: { x: 799, y: 182, width: 26, height: 13 }, style: { fill: "#ffffff" } },
  ];
}

export default function App() {
  const ref = useRef<HTMLDivElement>(null);
  useEffect(() => {
    const chart = echarts.init(ref.current!, null, { renderer: "svg" });
    const series: any[] = [
      {
        type: "custom", xAxisIndex: 0, yAxisIndex: 0, silent: true, z: 0, clip: false, encode: { x: 0, y: 1 }, data: volumeProfile,
        renderItem: (params: any, api: any) => {
          if (params.dataIndex !== 0) return null;
          const pts = volumeProfile.map((d) => api.coord(d));
          return { type: "polygon", shape: { points: pts }, style: { fill: "#fef4f7", stroke: "none" } };
        },
      },
      {
        type: "candlestick", name: "ghost", xAxisIndex: 0, yAxisIndex: 0, silent: true, barWidth: 3.4, z: 2, data: candles,
        itemStyle: { color: "#dddddd", color0: "#dddddd", borderColor: "#cccccc", borderColor0: "#cccccc", borderWidth: 1 },
      },
      {
        type: "candlestick", name: "AUDNZD", xAxisIndex: 0, yAxisIndex: 0, silent: true, barWidth: 2.2, z: 3, data: candles,
        itemStyle: { color: "#4f9a6b", color0: "#8f3a3a", borderColor: "#3f7a56", borderColor0: "#402525", borderWidth: 0.7 },
      },
      line(pinkMA, "#c89a9a", 1, 0, { smooth: 0.3 }),
      line(bollUpper, "#6468ac", 0.9, 0, { smooth: 0.25 }),
      line(bollLower, "#6468ac", 0.9, 0, { smooth: 0.25 }),
      line(bollMiddle, "#5e5e5e", 0.8, 0, { smooth: 0.3 }),
      line(redMA, "#c9302c", 1.7, 0, { smooth: 0.3, z: 5 }),
      line(blackBand, "#2a1a12", 5, 0, { z: 5 }),
      ...redZigzags.map((d) => line(d, "#c07a7a", 0.8, 0, { lineStyle: { type: [1.5, 1.5] } })),
      ...grayZigzags.map((d) => line(d, "#808080", 0.8, 0, { lineStyle: { type: [1.5, 1.5] } })),
      line(fbDashed, "#9a9ad4", 1.1, 0, { lineStyle: { type: [7, 4] } }),
      line(fbSolid, "#7070c4", 1, 0),
      line(cfMagenta, "#d48ade", 1.1, 0),
      line(cfCyan, "#9adcec", 1, 0),
      line(trendUp, "#3492dc", 2, 0, { z: 6 }),
      line(trendDown, "#3492dc", 2, 0, { z: 6 }),
      line(zoneBox, "#3c9ae4", 1.5, 0, { z: 6 }),
      { type: "scatter", xAxisIndex: 0, yAxisIndex: 0, symbol: "diamond", symbolSize: 8, silent: true, z: 7, data: priceDiamonds, itemStyle: { color: "#ffd21f" } },

      {
        type: "bar", xAxisIndex: 1, yAxisIndex: 1, barWidth: 4.5, silent: true, z: 2,
        data: macdHist.map((v, i) => [i * 2.172, v]),
        itemStyle: { color: (p: any) => (p.value[1] >= 0 ? "#1f7d2d" : "#f2432b") },
      },
      line(macdSignal, "#b98686", 1, 1, { smooth: 0.3 }),
      line(macdLine, "#2623a8", 1.7, 1, { smooth: 0.3, z: 5 }),
      ...macdGreenLinks.map((d) => line(d, "#4f9a5f", 1, 1)),
      ...macdRedLinks.map((d) => line(d, "#c9605a", 1, 1)),
      { type: "scatter", xAxisIndex: 1, yAxisIndex: 1, symbol: "diamond", symbolSize: 7, silent: true, z: 7, data: macdDiamonds, itemStyle: { color: "#ffd21f" } },

      line(rsiLine, "#4a98d8", 1.4, 2, {
        markLine: {
          silent: true, symbol: "none", label: { show: false },
          lineStyle: { color: "#c8c8c8", width: 0.8, type: [2, 2] },
          data: [{ yAxis: 80 }, { yAxis: 20 }],
        },
      }),
    ];
    chart.setOption({
      animation: false,
      backgroundColor: "#ffffff",
      textStyle: { fontFamily: FONT },
      grid: [
        { left: 2, width: 944, top: 3, height: 332, outerBoundsMode: "none", containLabel: false },
        { left: 2, width: 944, top: 337, height: 88, outerBoundsMode: "none", containLabel: false },
        { left: 2, width: 944, top: 427, height: 83, outerBoundsMode: "none", containLabel: false },
      ],
      xAxis: [xAxis(0, false), xAxis(1, false), xAxis(2, true)],
      yAxis: [
        yAxis(0, 0.9957, 1.1573, priceTicks, (v) => v.toFixed(5)),
        yAxis(1, -0.0142, 0.0153, macdTicks, (v) => (v === 0 ? "0.00" : v.toFixed(5)), 5, 1),
        yAxis(2, 0, 100, rsiTicks, (v) => rsiTickText[v] ?? ""),
      ],
      graphic: { elements: [...frame(), ...texts(), ...toolbar(), ...tablePanel(), ...logo()] },
      series,
    });
    return () => chart.dispose();
  }, []);
  return <div ref={ref} style={{ position: "fixed", left: 0, top: 0, width: 969, height: 520, filter: "blur(0.35px)" }} />;
}
